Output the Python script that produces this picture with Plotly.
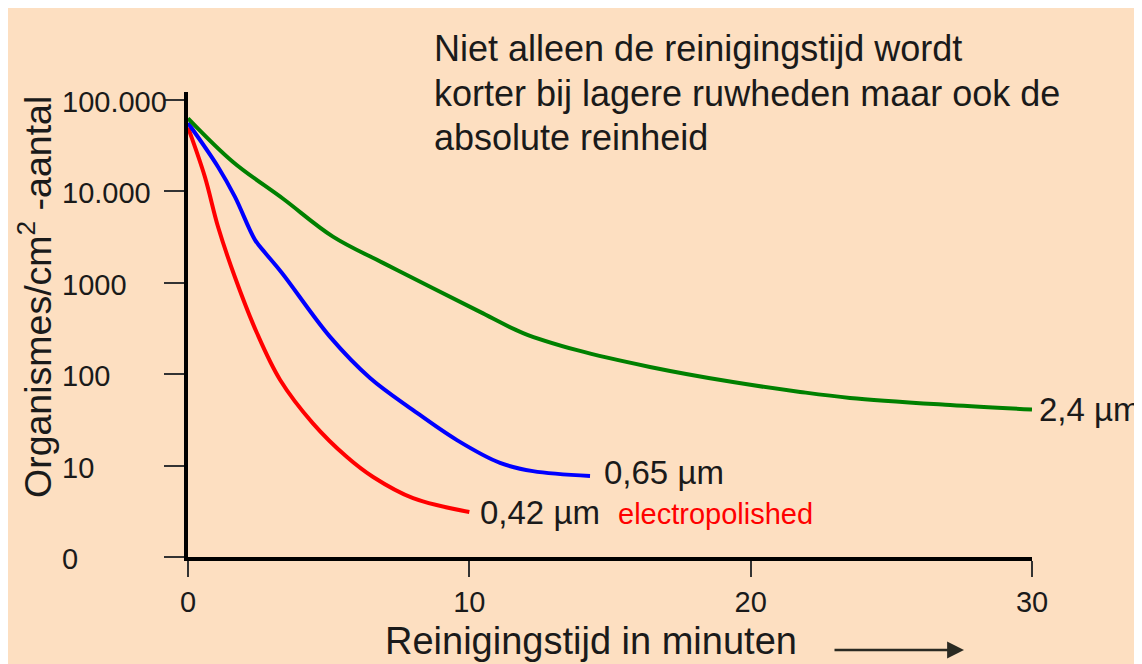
import numpy as np
import plotly.graph_objects as go

# ---- data ----
t_red = [0.0, 0.6, 1.07, 1.67, 2.45, 3.27, 4.44, 5.65, 6.58, 8.0, 10.0]
v_red = [50000, 14400, 4070, 1150, 282, 87, 29, 12.4, 7.5, 4.4, 3.1]

t_blue = [0.0, 1.07, 1.67, 2.38, 2.74, 3.34, 5.05, 6.47, 8.0, 9.56, 11.09, 12.26, 14.29]
v_blue = [56000, 18500, 8700, 2950, 2130, 1280, 256, 91, 40.5, 19, 10.7, 8.7, 7.7]

t_green = [0.0, 1.6, 3.38, 5.15, 6.93, 8.71, 10.38, 11.91, 13.83, 16.42, 19.37, 21.76,
           23.53, 27.09, 30.0]
v_green = [63000, 21000, 8300, 3200, 1650, 870, 480, 282, 183, 120, 82, 64, 55, 46, 41]

series_names = ["0,42 µm", "0,65 µm", "2,4 µm"]
series_colors = ["#FF0000", "#0000FF", "#008000"]

y_tick_vals = [1, 10, 100, 1000, 10000, 100000]
y_tick_text = ["0", "10", "100", "1000", "10.000", "100.000"]
x_tick_vals = [0, 10, 20, 30]
x_tick_text = ["0", "10", "20", "30"]

title_lines = ["Niet alleen de reinigingstijd wordt",
               "korter bij lagere ruwheden maar ook de",
               "absolute reinheid"]
x_title = "Reinigingstijd in minuten"
y_title = "Organismes/cm<sup>2</sup> -aantal"
extra_label = "electropolished"

# ---- layout geometry (page has an 8px body margin) ----
OFF = 8
W, H = 1142, 664
L, R, T, B = 180, 118, 84, 115
PW, PH = W - L - R, H - T - B
BG = "rgb(253,223,193)"
FONT = "Liberation Sans, Arial, sans-serif"
INK = "#1a1a1a"


def px(xs):
    return (xs - OFF - L) / PW


def py(ys):
    return (H - B - (ys - OFF)) / PH


fig = go.Figure()
for t, v, name, col in zip([t_red, t_blue, t_green], [v_red, v_blue, v_green],
                           series_names, series_colors):
    fig.add_trace(go.Scatter(x=t, y=v, mode="lines", name=name,
                             line=dict(color=col, width=4, shape="spline", smoothing=1.0),
                             showlegend=False))

ann = []
label_shift = [(9, 0), (12, 3), (5, 0)]
for t, v, name, (dx, dy) in zip([t_red, t_blue, t_green], [v_red, v_blue, v_green],
                                series_names, label_shift):
    ann.append(dict(x=t[-1], y=np.log10(v[-1]), xref="x", yref="y", text=name,
                    showarrow=False, xanchor="left", yanchor="middle", xshift=dx, yshift=dy,
                    font=dict(size=33, color=INK, family=FONT)))
ann.append(dict(x=px(616), y=np.log10(v_red[-1]), xref="paper", yref="y", text=extra_label,
                showarrow=False, xanchor="left", yanchor="middle", yshift=-2,
                font=dict(size=29, color="#FF0000", family=FONT)))

for v, txt in zip(y_tick_vals, y_tick_text):
    ann.append(dict(x=px(60), y=np.log10(v), xref="paper", yref="y", text=txt,
                    showarrow=False, xanchor="left", yanchor="middle", yshift=-2,
                    font=dict(size=29, color=INK, family=FONT)))

for i, line in enumerate(title_lines):
    ann.append(dict(x=px(432), y=py(49 + 44 * i), xref="paper", yref="paper",
                    text=line, showarrow=False, xanchor="left", yanchor="middle",
                    font=dict(size=36, color=INK, family=FONT)))

ann.append(dict(x=px(591), y=py(641), xref="paper", yref="paper", text=x_title,
                showarrow=False, xanchor="center", yanchor="middle",
                font=dict(size=38, color=INK, family=FONT)))
ann.append(dict(x=px(35), y=py(297), xref="paper", yref="paper", text=y_title,
                showarrow=False, xanchor="center", yanchor="middle", textangle=-90,
                font=dict(size=37.5, color=INK, family=FONT)))
ann.append(dict(x=px(964), y=py(650), xref="paper", yref="paper", ax=-131, ay=0,
                axref="pixel", ayref="pixel", text="", showarrow=True,
                arrowhead=2, arrowsize=1.3, arrowwidth=2.6, arrowcolor="#2a2a22"))

fig.update_layout(
    width=W, height=H,
    margin=dict(l=L, r=R, t=T, b=B),
    paper_bgcolor=BG, plot_bgcolor=BG,
    annotations=ann,
    font=dict(family=FONT, color=INK),
)
fig.update_xaxes(range=[0, 30], showgrid=False, zeroline=False,
                 showline=True, linecolor="black", linewidth=4,
                 ticks="outside", ticklen=16, tickwidth=1.5, tickcolor="#333",
                 tickvals=x_tick_vals, ticktext=x_tick_text,
                 tickfont=dict(size=29, color=INK, family=FONT))
fig.update_yaxes(type="log", range=[0, 5.087], showgrid=False, zeroline=False,
                 showline=True, linecolor="black", linewidth=4,
                 ticks="outside", ticklen=20, tickwidth=1.5, tickcolor="#333",
                 tickvals=y_tick_vals, showticklabels=False)

fig.write_html("out.html")
